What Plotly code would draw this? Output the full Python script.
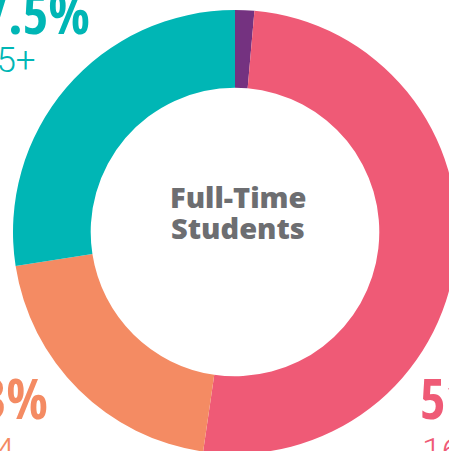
import plotly.graph_objects as go

# Data
groups = ["Under 16", "16–19", "20–24", "25+"]
shares = [1.4, 51.0, 20.3, 27.5]
share_labels = ["1.4%", "51%", "20.3%", "27.5%"]
colors = ["#743280", "#EF5A76", "#F48B63", "#00B6B5"]
center_lines = ["Full-Time", "Students"]

W, H = 480, 480
cx, cy, r = 235, 232, 222

def px(x):
    return x / W

def py(y):
    return 1 - y / H

fig = go.Figure(go.Pie(
    labels=groups,
    values=shares,
    sort=False,
    direction="clockwise",
    rotation=0,
    hole=0.65,
    marker=dict(colors=colors, line=dict(width=0)),
    textinfo="none",
    hoverinfo="label+percent",
    showlegend=False,
    domain=dict(x=[px(cx - r), px(cx + r)], y=[py(cy + r), py(cy - r)]),
))

big = dict(family="Open Sans Condensed", size=55, weight=700)
small = dict(family="Roboto", size=35, weight=300)

ann = []
# 25+
ann.append(dict(x=px(92), y=py(12), xanchor="right", yanchor="middle",
                text=share_labels[3], font=dict(color=colors[3], **big)))
ann.append(dict(x=px(38), y=py(60), xanchor="right", yanchor="middle",
                text=groups[3], font=dict(color=colors[3], **small)))
# 20-24
ann.append(dict(x=px(50), y=py(397), xanchor="right", yanchor="middle",
                text=share_labels[2], font=dict(color=colors[2], **big)))
ann.append(dict(x=px(16), y=py(451), xanchor="right", yanchor="middle",
                text=groups[2], font=dict(color=colors[2], **small)))
# 16-19
ann.append(dict(x=px(418), y=py(397), xanchor="left", yanchor="middle",
                text=share_labels[1], font=dict(color=colors[1], **big)))
ann.append(dict(x=px(420), y=py(451), xanchor="left", yanchor="middle",
                text=groups[1], font=dict(color=colors[1], **small)))
# center
for line, yy in zip(center_lines, [196, 227]):
    ann.append(dict(x=px(238), y=py(yy), xanchor="center", yanchor="middle",
                    text=line,
                    font=dict(family="Open Sans", size=29, weight=800, color="#6D6E71")))

for a in ann:
    a.update(xref="paper", yref="paper", showarrow=False)

fig.update_layout(
    width=W, height=H,
    margin=dict(l=0, r=0, t=0, b=0),
    paper_bgcolor="white",
    plot_bgcolor="white",
    annotations=ann,
)

fig.write_html("out.html", config={"displayModeBar": False},
               post_script="document.body.style.margin='0';")
